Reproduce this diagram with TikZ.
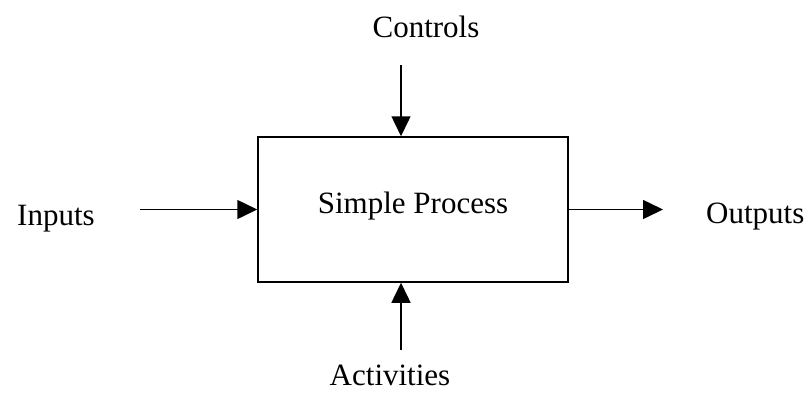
\documentclass[tikz,border=0pt]{standalone}
\usepackage{fontspec}
\setmainfont{Liberation Serif}
\usetikzlibrary{arrows.meta}
\begin{document}
\begin{tikzpicture}[x=1pt,y=-1pt,
  flow/.style={line width=1.5pt,-{Triangle[length=20pt,width=19pt]}},
  lbl/.style={inner sep=0pt,font=\fontsize{31}{37}\selectfont},
  procbox/.style={draw,line width=1.5pt,minimum width=310pt,minimum height=145pt,inner sep=0pt}]
  \useasboundingbox (0,0) rectangle (810,394);

  % the process box and its caption
  \node[procbox] (proc) at (413,209.5) {};
  \node[lbl,anchor=base] (proctext) at (413,213) {Simple Process};

  % labels round the box
  \node[lbl,anchor=base west] (inputs) at (17,225) {Inputs};
  \node[lbl,anchor=base west] (outputs) at (706,223) {Outputs};
  \node[lbl,anchor=base] (controls) at (426,37) {Controls};
  \node[lbl,anchor=base] (activities) at (390,385) {Activities};

  % free ends of the arrows
  \coordinate (inTail) at (140,209.5);
  \coordinate (outTip) at (663,209.5);
  \coordinate (ctlTail) at (401,65);
  \coordinate (actTail) at (401,350);

  \draw[flow] (inTail) -- (proc.west);
  \draw[flow] (proc.east) -- (outTip);
  \draw[flow] (ctlTail) -- (ctlTail |- proc.north);
  \draw[flow] (actTail) -- (actTail |- proc.south);
\end{tikzpicture}
\end{document}
